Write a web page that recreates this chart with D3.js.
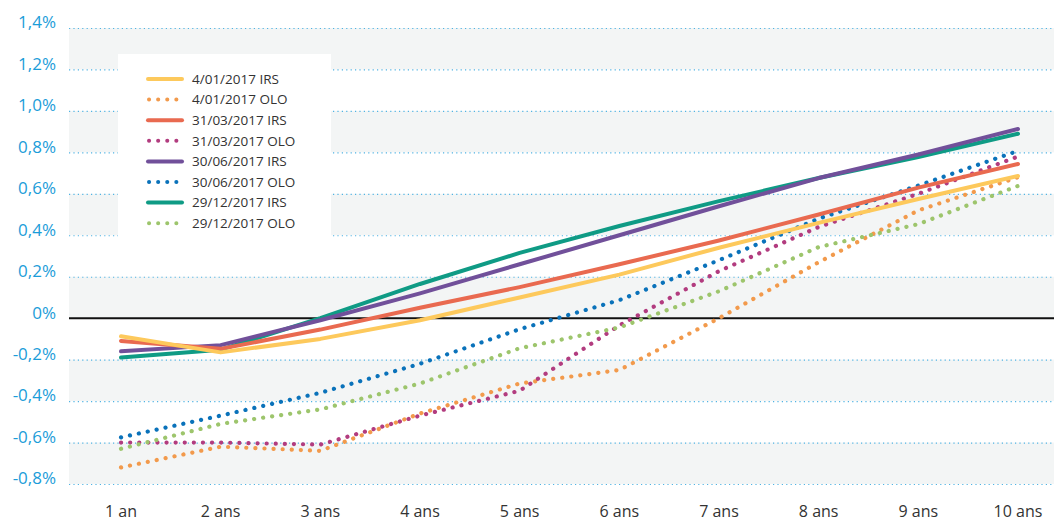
<!DOCTYPE html>
<html>
<head>
<meta charset="utf-8">
<script src="https://d3js.org/d3.v7.min.js"></script>
<style>
  body { margin: 0; background: #fff; }
  svg { display: block; font-family: "Open Sans", sans-serif; }
</style>
</head>
<body>
<svg id="chart" width="1054" height="522"></svg>
<script>
const maturities = ["1 an", "2 ans", "3 ans", "4 ans", "5 ans", "6 ans", "7 ans", "8 ans", "9 ans", "10 ans"];
const yTicks = [-0.8, -0.6, -0.4, -0.2, 0, 0.2, 0.4, 0.6, 0.8, 1.0, 1.2, 1.4];

const irs0401 = [-0.087, -0.165, -0.10, -0.01, 0.10, 0.21, 0.34, 0.46, 0.575, 0.686];
const olo0401 = [-0.72, -0.62, -0.64, -0.46, -0.315, -0.25, 0.0, 0.27, 0.52, 0.68];
const irs3103 = [-0.11, -0.148, -0.055, 0.05, 0.15, 0.26, 0.375, 0.50, 0.63, 0.744];
const olo3103 = [-0.60, -0.60, -0.61, -0.47, -0.35, -0.035, 0.227, 0.44, 0.60, 0.78];
const irs3006 = [-0.16, -0.13, -0.01, 0.12, 0.26, 0.40, 0.54, 0.676, 0.79, 0.913];
const olo3006 = [-0.575, -0.47, -0.36, -0.22, -0.053, 0.087, 0.28, 0.48, 0.64, 0.807];
const irs2912 = [-0.19, -0.152, 0.0, 0.165, 0.315, 0.445, 0.565, 0.676, 0.778, 0.89];
const olo2912 = [-0.63, -0.51, -0.44, -0.315, -0.145, -0.045, 0.13, 0.343, 0.454, 0.638];

const series = [
  {name: "4/01/2017 IRS",  values: irs0401, color: "#fdc95c", dotted: false},
  {name: "4/01/2017 OLO",  values: olo0401, color: "#f29a4c", dotted: true},
  {name: "31/03/2017 IRS", values: irs3103, color: "#e96a50", dotted: false},
  {name: "31/03/2017 OLO", values: olo3103, color: "#b23c7f", dotted: true},
  {name: "30/06/2017 IRS", values: irs3006, color: "#71509a", dotted: false},
  {name: "30/06/2017 OLO", values: olo3006, color: "#0a72ba", dotted: true},
  {name: "29/12/2017 IRS", values: irs2912, color: "#0f9b85", dotted: false},
  {name: "29/12/2017 OLO", values: olo2912, color: "#9dc56c", dotted: true}
];

const svg = d3.select("#chart");
const left = 69, right = 1054;

const x = d3.scalePoint().domain(maturities).range([121, 1018]);
const y = d3.scaleLinear().domain([-0.8, 1.4]).range([484, 28]);

const fmt = v => (Math.abs(v) < 1e-9 ? "0" : d3.format(".1f")(v).replace(".", ",").replace("−", "-")) + "%";

// alternating bands
for (let i = 0; i < yTicks.length - 1; i++) {
  if (i % 2 === 0) {
    svg.append("rect")
      .attr("x", left).attr("width", right - left)
      .attr("y", y(yTicks[i + 1])).attr("height", y(yTicks[i]) - y(yTicks[i + 1]))
      .attr("fill", "#f3f5f5");
  }
}

// gridlines
svg.append("g").selectAll("line").data(yTicks.filter(d => d !== 0)).enter().append("line")
  .attr("x1", left).attr("x2", right)
  .attr("y1", d => y(d) + 0.5).attr("y2", d => y(d) + 0.5)
  .attr("stroke", "#4fb3e3").attr("stroke-width", 1.2)
  .attr("stroke-dasharray", "1.2 3.2");

// zero line
svg.append("line")
  .attr("x1", left).attr("x2", right)
  .attr("y1", y(0)).attr("y2", y(0))
  .attr("stroke", "#111").attr("stroke-width", 2);

// y labels
svg.append("g").selectAll("text").data(yTicks).enter().append("text")
  .attr("x", 56).attr("y", d => y(d))
  .attr("dy", "0.02em")
  .attr("text-anchor", "end")
  .attr("font-size", 17)
  .attr("fill", "#1b9dd9")
  .text(fmt);

// x labels
svg.append("g").selectAll("text").data(maturities).enter().append("text")
  .attr("x", d => x(d)).attr("y", 517)
  .attr("text-anchor", "middle")
  .attr("font-size", 16)
  .attr("fill", "#333")
  .text(d => d);

// lines
const line = d3.line().x((d, i) => x(maturities[i])).y(d => y(d));
const drawOrder = [1, 3, 5, 7, 6, 4, 2, 0];
drawOrder.forEach(k => {
  const s = series[k];
  const p = svg.append("path")
    .attr("d", line(s.values))
    .attr("fill", "none")
    .attr("stroke", s.color)
    .attr("stroke-width", s.dotted ? 4.2 : 4)
    .attr("stroke-linecap", "round")
    .attr("stroke-linejoin", "round");
  if (s.dotted) p.attr("stroke-dasharray", "0.1 9");
});

// legend
const lg = svg.append("g");
lg.append("rect").attr("x", 118).attr("y", 54).attr("width", 213).attr("height", 183).attr("fill", "#fff");
series.forEach((s, i) => {
  const ly = 79 + i * 20.6;
  const l = lg.append("line")
    .attr("x1", 148).attr("x2", s.dotted ? 178 : 182)
    .attr("y1", ly).attr("y2", ly)
    .attr("stroke", s.color).attr("stroke-width", 4)
    .attr("stroke-linecap", "round");
  if (s.dotted) l.attr("stroke-dasharray", "0.1 9").attr("x1", 149);
  lg.append("text")
    .attr("x", 192).attr("y", ly).attr("dy", "0.35em")
    .attr("font-size", 13.5).attr("fill", "#333")
    .text(s.name);
});
</script>
</body>
</html>
